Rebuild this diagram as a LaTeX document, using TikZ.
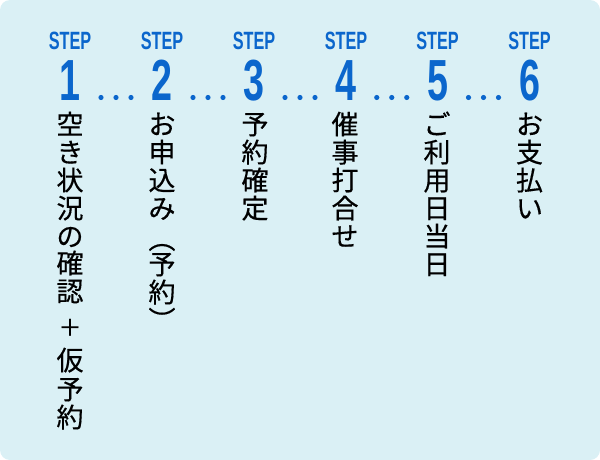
\documentclass[tikz,border=0pt]{standalone}
\usepackage{fontspec}
\newfontfamily\jp[FakeBold=0.4]{Noto Sans CJK JP}
\newfontfamily\stepf[FakeStretch=0.65]{Liberation Sans}
\definecolor{bg}{HTML}{DAF0F5}
\definecolor{stepblue}{HTML}{0B66CC}
\begin{document}
\begin{tikzpicture}[x=1pt,y=-1pt,
  steplabel/.style={font=\stepf\bfseries\fontsize{25}{25}\selectfont, text=stepblue, anchor=base, inner sep=0pt},
  stepnum/.style={font=\stepf\bfseries\fontsize{58}{58}\selectfont, text=stepblue, anchor=base, inner sep=0pt},
  dotmark/.style={circle, fill=stepblue, inner sep=0pt, minimum size=5.2pt},
  jchar/.style={font=\jp\fontsize{27}{27}\selectfont, inner sep=0pt, anchor=base, yshift=-10.3pt},
  jparen/.style={font=\jp\fontsize{27}{27}\selectfont, inner sep=0pt, anchor=base}]
\useasboundingbox (0,0) rectangle (600,460);
\fill[bg, rounded corners=10pt] (0,0) rectangle (600,460);
% step labels and numbers
\foreach \i/\x in {1/70,2/162,3/254,4/346,5/437.5,6/529.5}{
  \node[steplabel] (s\i) at (\x,50) {STEP};
  \node[stepnum] (n\i) at (\x,100) {\i};
}
% dots
\foreach \k/\m in {1/116,2/208,3/300,4/391.75,5/483.5}{
  \node[dotmark] (d\k a) at (\m-15,97.5) {};
  \node[dotmark] (d\k b) at (\m,97.5) {};
  \node[dotmark] (d\k c) at (\m+15,97.5) {};
}
% column 1
\foreach \j/\c/\y in {1/空/124,2/き/152,3/状/180,4/況/208,5/の/236,6/確/263,7/認/291,9/仮/360,10/予/389,11/約/417}{
  \node[jchar] (a\j) at (70,\y) {\c};
}
\node[jchar, font=\jp\fontsize{23}{23}\selectfont, yshift=1.5pt] (a8) at (70,327) {＋};
% column 2
\foreach \j/\c/\y in {1/お/124,2/申/152,3/込/180,4/み/208,6/予/264,7/約/292}{
  \node[jchar] (b\j) at (162,\y) {\c};
}
\node[jparen] (b5) at (162,249) {\smash{︵}};
\node[jparen] (b8) at (162,330.3) {\smash{︶}};
% column 3
\foreach \j/\c/\y in {1/予/124,2/約/152,3/確/180,4/定/208}{
  \node[jchar] (c\j) at (255,\y) {\c};
}
% column 4
\foreach \j/\c/\y in {1/催/124,2/事/152,3/打/180,4/合/208,5/せ/236}{
  \node[jchar] (e\j) at (345,\y) {\c};
}
% column 5
\foreach \j/\c/\y in {1/ご/124,2/利/152,3/用/180,4/日/208,5/当/236,6/日/264}{
  \node[jchar] (f\j) at (437,\y) {\c};
}
% column 6
\foreach \j/\c/\y in {1/お/124,2/支/152,3/払/180,4/い/208}{
  \node[jchar] (g\j) at (529.5,\y) {\c};
}
\end{tikzpicture}
\end{document}
